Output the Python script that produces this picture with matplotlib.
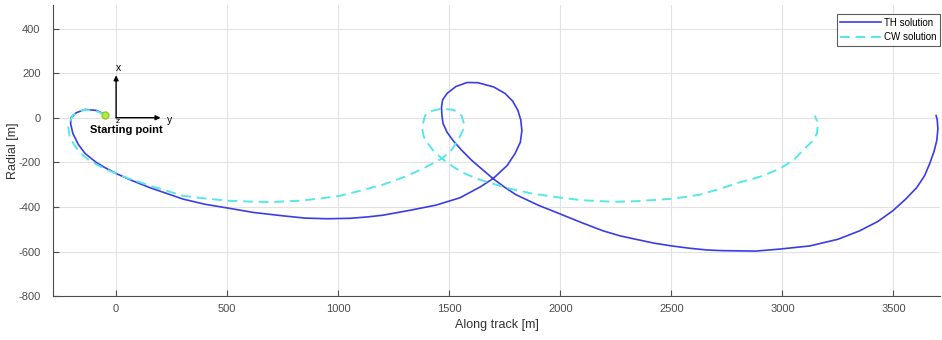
import numpy as np
import matplotlib
matplotlib.use('Agg')
import matplotlib.pyplot as plt

plt.rcParams['font.family'] = ['Liberation Sans', 'DejaVu Sans']
plt.rcParams['axes.unicode_minus'] = False

# TH solution
th_x = [-50, -90, -140, -180, -203, -205, -195, -170, -140, -90, -50, 0, 72, 153,
        302, 400, 503, 620, 752, 850, 950, 1053, 1130, 1202, 1323, 1440, 1548, 1640,
        1697, 1760, 1796, 1820, 1827, 1822, 1809, 1785, 1751, 1700, 1629, 1580,
        1530, 1490, 1470, 1465, 1467, 1472, 1490, 1517, 1555, 1602, 1650, 1697,
        1750, 1800, 1900, 1998, 2100, 2192, 2270, 2340, 2420, 2502, 2580, 2660,
        2730, 2808, 2880, 2988, 3123, 3250, 3348, 3430, 3497, 3555, 3605, 3640,
        3663, 3683, 3695, 3700, 3697, 3692]
th_y = [15, 33, 37, 22, 0, -25, -70, -120, -160, -200, -224, -250, -282, -314,
        -365, -388, -405, -425, -440, -450, -453, -451, -445, -437, -415, -392,
        -359, -310, -273, -215, -161, -110, -58, -10, 33, 75, 109, 138, 157, 158,
        140, 109, 80, 46, 10, -26, -65, -102, -145, -192, -233, -273, -312,
        -345, -392, -431, -472, -507, -530, -545, -562, -575, -585, -593,
        -596, -597, -598, -589, -575, -545, -507, -465, -417, -365, -313, -260,
        -206, -150, -102, -50, -10, 10]

# CW solution
cw_x = [-50, -100, -150, -195, -216, -210, -190, -165, -120, -50, 50, 153, 302,
        400, 503, 600, 700, 828, 920, 1008, 1100, 1202, 1300, 1382, 1467, 1510,
        1539, 1562, 1566, 1555, 1520, 1467, 1420, 1391, 1377, 1385, 1404, 1430,
        1467, 1520, 1571, 1630, 1692, 1780, 1877, 1998, 2100, 2237, 2350, 2493,
        2560, 2628, 2718, 2800, 2898, 2988, 3050, 3092, 3130, 3155, 3160, 3146]
cw_y = [15, 33, 35, 12, -35, -80, -120, -155, -192, -230, -270, -305, -350,
        -362, -372, -376, -378, -372, -362, -350, -327, -300, -265, -228, -183,
        -145, -102, -55, -26, 10, 35, 41, 30, 10, -44, -85, -116, -150,
        -183, -222, -251, -275, -295, -320, -341, -358, -370, -377, -374, -364,
        -356, -345, -319, -292, -265, -229, -190, -147, -110, -72, -26, 10]

start = (-50, 13)
series_labels = ['TH solution', 'CW solution']

fig = plt.figure(figsize=(9.42, 3.4), dpi=100)
ax = fig.add_axes([0.0563, 0.129, 0.9417, 0.856])

ax.plot(th_x, th_y, color='#3c3ce6', linewidth=1.2, label=series_labels[0])
ax.plot(cw_x, cw_y, color='#55e8e8', linewidth=1.4, linestyle=(0, (5, 3)),
        label=series_labels[1])

ax.plot(*start, 'o', markersize=5, markerfacecolor='#b4ec3c',
        markeredgecolor='#8cc83c', zorder=5)

# reference frame triad
arr = dict(arrowstyle='-|>', color='k', lw=1.0, mutation_scale=7, shrinkA=0, shrinkB=0)
ax.annotate('', xy=(0, 190), xytext=(0, 0), arrowprops=arr)
ax.annotate('', xy=(200, 0), xytext=(0, 0), arrowprops=arr)
ax.text(12, 200, 'x', fontsize=7.5, ha='center', va='bottom')
ax.text(228, -8, 'y', fontsize=7.5, ha='left', va='center')
ax.text(9, -17, 'z', fontsize=6, ha='center', va='center')
ax.text(47, -55, 'Starting point', fontsize=8, fontweight='bold',
        ha='center', va='center')

ax.set_xlim(-284, 3710)
ax.set_ylim(-800, 505)
ax.set_xticks(np.arange(0, 3501, 500))
ax.set_yticks(np.arange(-800, 401, 200))
ax.grid(True, color='#e2e2e2', linewidth=0.8)
ax.set_axisbelow(True)
ax.tick_params(direction='in', length=4, color='#4d4d4d', labelcolor='#4d4d4d',
               labelsize=8)
ax.tick_params(axis='x', pad=6)
ax.tick_params(axis='y', pad=9)
for s in ['top', 'right']:
    ax.spines[s].set_visible(False)
for s in ['left', 'bottom']:
    ax.spines[s].set_color('#4d4d4d')
ax.set_xlabel('Along track [m]', fontsize=9, color='#333333', labelpad=3)
ax.set_ylabel('Radial [m]', fontsize=9, color='#333333')
ax.yaxis.set_label_coords(-0.038, 0.5)

leg = ax.legend(loc='upper right', bbox_to_anchor=(1.0, 0.969), fontsize=7,
                frameon=True, fancybox=False, edgecolor='#333333',
                handlelength=4.2, borderpad=0.35, labelspacing=0.5,
                handletextpad=0.3, borderaxespad=0)
leg.get_frame().set_linewidth(0.8)

fig.savefig('out.png', dpi=100)
